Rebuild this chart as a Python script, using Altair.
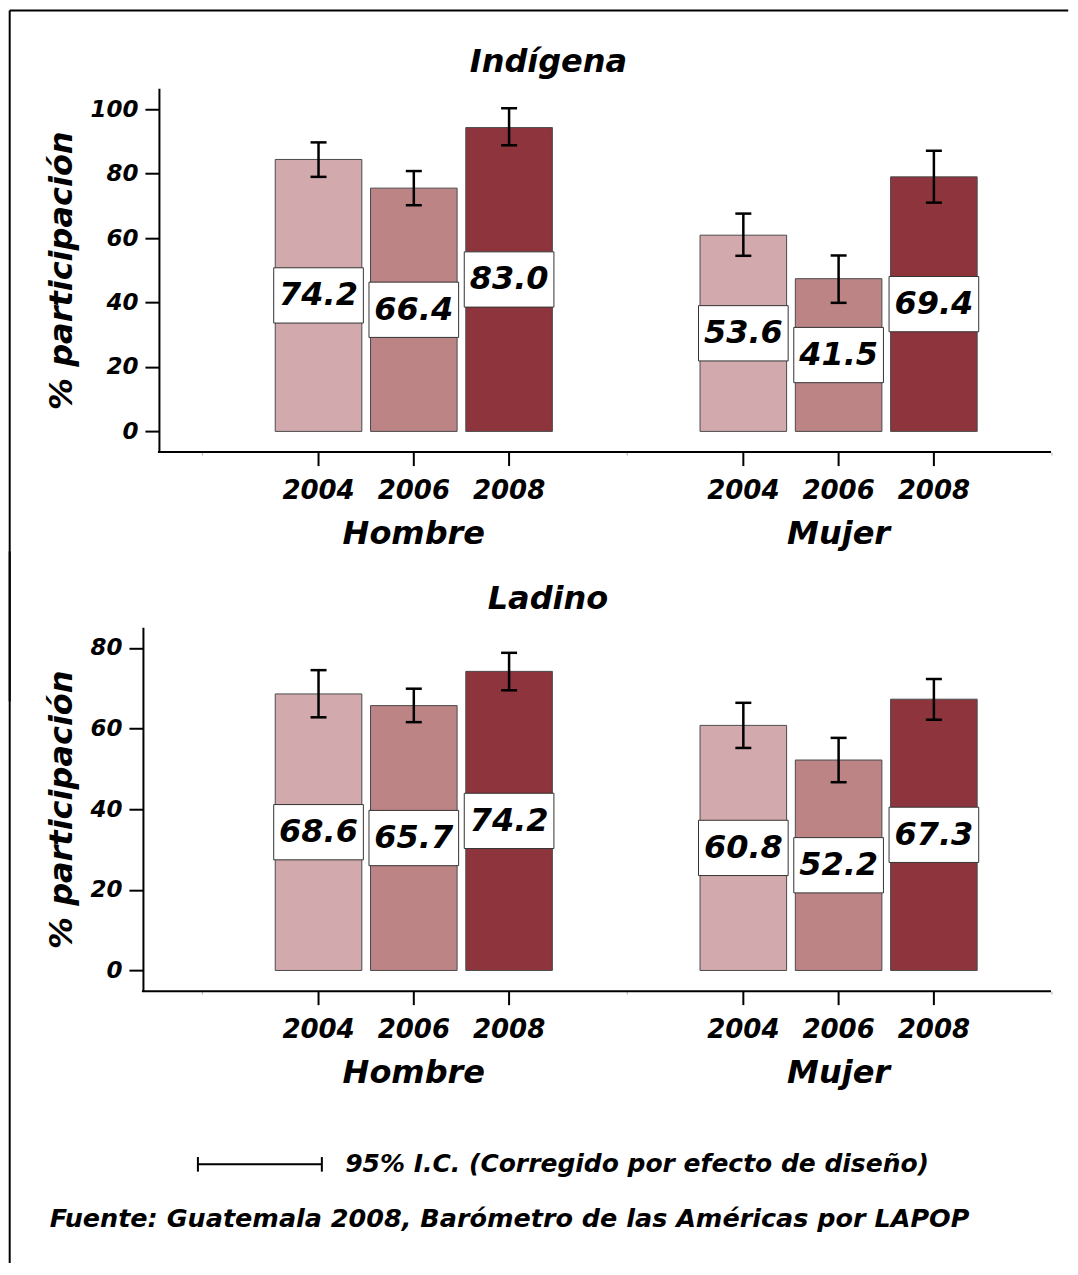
import altair as alt
import pandas as pd

# ---------------- data ----------------
groups = ["Hombre", "Mujer"]
years = ["2004", "2006", "2008"]
row_group = ["Hombre", "Hombre", "Hombre", "Mujer", "Mujer", "Mujer"]
row_year = ["2004", "2006", "2008", "2004", "2006", "2008"]

# Indígena: bar heights and CI, labels as printed
indigena_bar = [84.4, 75.5, 94.3, 60.9, 47.4, 79.0]
indigena_low = [79.0, 70.2, 88.8, 54.5, 39.9, 71.0]
indigena_high = [89.7, 80.8, 100.3, 67.6, 54.6, 87.1]
indigena_label = [74.2, 66.4, 83.0, 53.6, 41.5, 69.4]

# Ladino
ladino_bar = [68.6, 65.7, 74.2, 60.8, 52.2, 67.3]
ladino_low = [62.8, 61.6, 69.5, 55.2, 46.7, 62.2]
ladino_high = [74.5, 69.9, 78.8, 66.4, 57.7, 72.3]
ladino_label = [68.6, 65.7, 74.2, 60.8, 52.2, 67.3]

indigena_ticks = [0, 20, 40, 60, 80, 100]
ladino_ticks = [0, 20, 40, 60, 80]

year_colors = ["#D2AAAD", "#BD8486", "#8E343C"]

panel_titles = ["Indígena", "Ladino"]
y_title = "% participación"
legend_text = ["95% I.C. (Corregido por efecto de diseño)"]
source_text = ["Fuente: Guatemala 2008, Barómetro de las Américas por LAPOP"]

FONT = "DejaVu Sans"
H = 364
ORIGIN_X = 159.3          # page x of the plot origin (shared by both rows)
W = 1051.8 - ORIGIN_X     # plot width
GROUP_START = 201.8 - ORIGIN_X
FRAME_X = 10 - ORIGIN_X
TOP1 = 86.7               # page y of the Indígena plot top
TOP2 = 626.0              # page y of the Ladino plot top
BOX = "M-1,-0.6165L1,-0.6165L1,0.6165L-1,0.6165Z"


def txt(size, **kw):
    return dict(font=FONT, fontSize=size, fontStyle="italic", fontWeight="bold", **kw)


def panel(title, bar, low, high, label, y_domain, y_ticks, axis_offset,
          title_x, title_y, ytitle_x, extra_layers):
    df = pd.DataFrame({"group": row_group, "year": row_year, "bar": bar,
                       "low": low, "high": high, "label": label})
    base = alt.Chart(df)

    x = alt.X("group:N",
              scale=alt.Scale(domain=groups, range=[GROUP_START, W],
                              paddingInner=0, paddingOuter=0),
              axis=alt.Axis(labels=False, title=None, domain=False,
                            ticks=True, tickBand="extent",
                            tickSize=3, tickColor="#b0b0b0", tickWidth=1,
                            grid=False))
    xo = alt.XOffset("year:N", scale=alt.Scale(domain=years, paddingInner=0.0913,
                                               paddingOuter=0.775))
    yscale = alt.Scale(domain=y_domain, nice=False, zero=False)
    yaxis = alt.Axis(values=y_ticks, format="d", title=y_title, grid=False,
                     offset=axis_offset,
                     labelFont=FONT, labelFontSize=23, labelFontStyle="italic",
                     labelFontWeight="bold", labelColor="black", labelPadding=7,
                     tickSize=14, tickWidth=2, tickColor="black",
                     domainColor="black", domainWidth=2,
                     titleFont=FONT, titleFontSize=32, titleFontStyle="italic",
                     titleFontWeight="bold", titleColor="black",
                     titleX=ytitle_x, titleY=H / 2, titleBaseline="middle",
                     titleAlign="center", titleAngle=270)

    def yenc(field):
        return alt.Y(field, scale=yscale, axis=yaxis)

    bars = base.mark_bar(stroke="#4a4a4a", strokeWidth=1).encode(
        x=x, xOffset=xo, y=yenc("bar:Q"), y2=alt.datum(0),
        color=alt.Color("year:N", scale=alt.Scale(domain=years, range=year_colors),
                        legend=None))
    err = base.mark_rule(color="black", strokeWidth=2.5).encode(
        x=x, xOffset=xo, y=yenc("low:Q"), y2="high:Q")
    cap_lo = base.mark_tick(orient="horizontal", size=16, thickness=2.5,
                            color="black", opacity=1).encode(
        x=x, xOffset=xo, y=yenc("low:Q"))
    cap_hi = base.mark_tick(orient="horizontal", size=16, thickness=2.5,
                            color="black", opacity=1).encode(
        x=x, xOffset=xo, y=yenc("high:Q"))
    mid = base.transform_calculate(mid="datum.bar / 2")
    box = mid.mark_point(shape=BOX, size=8046, filled=True, fill="white",
                         stroke="#333333", strokeWidth=1, opacity=1).encode(
        x=x, xOffset=xo, y=yenc("mid:Q"))
    vals = mid.mark_text(**txt(32, color="black", align="center",
                               baseline="middle")).encode(
        x=x, xOffset=xo, y=yenc("mid:Q"), text=alt.Text("label:Q", format=".1f"))
    year_ticks = base.mark_rule(color="black", strokeWidth=2).encode(
        x=x, xOffset=xo, y=alt.value(H), y2=alt.value(H + 14))
    year_labels = base.mark_text(**txt(26, color="black", align="center",
                                       baseline="middle")).encode(
        x=x, xOffset=xo, y=alt.value(H + 38.7), text="year:N")
    group_labels = alt.Chart(pd.DataFrame({"group": groups})).mark_text(
        **txt(32, color="black", align="center", baseline="middle")).encode(
        x=x, y=alt.value(H + 81.7), text="group:N")
    title_mark = alt.Chart(pd.DataFrame({"t": [title]})).mark_text(
        **txt(32, color="black", align="center", baseline="middle")).encode(
        x=alt.value(title_x), y=alt.value(title_y), text="t:N")

    one = alt.Chart(pd.DataFrame({"k": [0]}))
    layers = [bars, err, cap_lo, cap_hi, box, vals, year_ticks, year_labels,
              group_labels, title_mark,
              # x-axis baseline, starting at the y-axis line
              one.mark_rule(color="black", strokeWidth=2).encode(
                  x=alt.value(-axis_offset - 1), x2=alt.value(W), y=alt.value(H))]
    layers += extra_layers
    return alt.layer(*layers).properties(width=W, height=H)


one = alt.Chart(pd.DataFrame({"k": [0]}))

# frame: top edge + left edge (upper part) drawn with the Indígena panel
frame_top = [
    one.mark_rule(color="black", strokeWidth=2).encode(
        x=alt.value(FRAME_X), x2=alt.value(1069 - ORIGIN_X), y=alt.value(9 - TOP1)),
    one.mark_rule(color="black", strokeWidth=2).encode(
        x=alt.value(FRAME_X), y=alt.value(9 - TOP1), y2=alt.value(700 - TOP1)),
]

# legend, source and lower part of the frame drawn with the Ladino panel
lower = [
    one.mark_rule(color="black", strokeWidth=2).encode(
        x=alt.value(FRAME_X), y=alt.value(550 - TOP2), y2=alt.value(1262 - TOP2)),
    one.mark_rule(color="black", strokeWidth=2).encode(
        x=alt.value(198.3 - ORIGIN_X), x2=alt.value(322.3 - ORIGIN_X),
        y=alt.value(1163.3 - TOP2)),
    one.mark_rule(color="black", strokeWidth=2).encode(
        x=alt.value(198.3 - ORIGIN_X), y=alt.value(1156 - TOP2),
        y2=alt.value(1170.6 - TOP2)),
    one.mark_rule(color="black", strokeWidth=2).encode(
        x=alt.value(322.3 - ORIGIN_X), y=alt.value(1156 - TOP2),
        y2=alt.value(1170.6 - TOP2)),
    alt.Chart(pd.DataFrame({"t": legend_text})).mark_text(
        **txt(25, color="black", align="left", baseline="middle")).encode(
        x=alt.value(345.7 - ORIGIN_X), y=alt.value(1163 - TOP2), text="t:N"),
    alt.Chart(pd.DataFrame({"t": source_text})).mark_text(
        **txt(25.5, color="black", align="left", baseline="middle")).encode(
        x=alt.value(50 - ORIGIN_X), y=alt.value(1217.7 - TOP2), text="t:N"),
]

indigena = panel(panel_titles[0], indigena_bar, indigena_low, indigena_high,
                 indigena_label, y_domain=[-6.42, 106.5], y_ticks=indigena_ticks,
                 axis_offset=0, title_x=549 - ORIGIN_X, title_y=60 - TOP1,
                 ytitle_x=-97.3, extra_layers=frame_top)

ladino = panel(panel_titles[1], ladino_bar, ladino_low, ladino_high, ladino_label,
               y_domain=[-5.13, 85.13], y_ticks=ladino_ticks,
               axis_offset=16, title_x=548.5 - ORIGIN_X, title_y=598 - TOP2,
               ytitle_x=-81.3, extra_layers=lower)

chart = alt.vconcat(indigena, ladino, spacing=TOP2 - (TOP1 + H),
                    bounds="flush").properties(
    padding=0, background="white"
).configure_view(stroke="transparent")

chart.save("out.html", embed_options={"renderer": "svg", "actions": False})
